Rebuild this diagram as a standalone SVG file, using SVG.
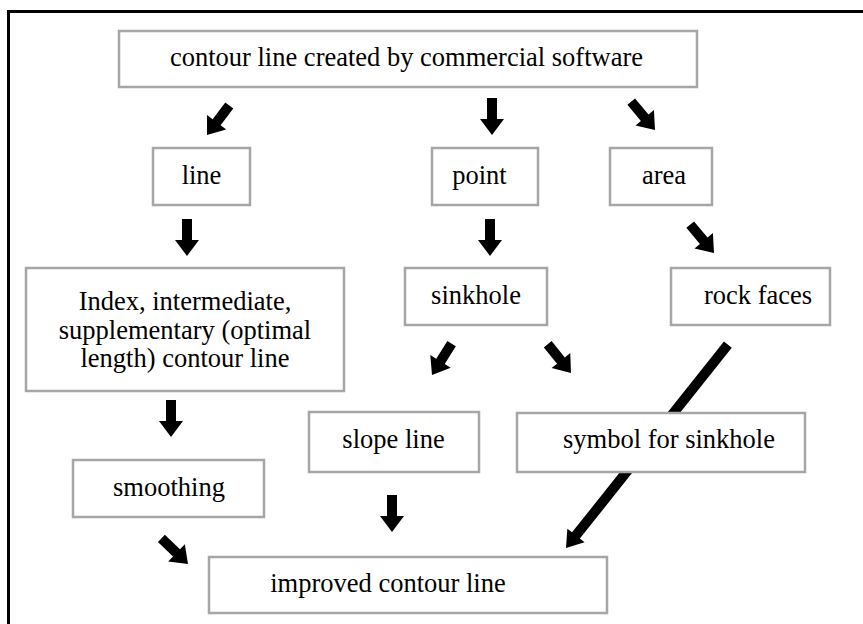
<svg xmlns="http://www.w3.org/2000/svg" xmlns:xlink="http://www.w3.org/1999/xlink" width="863" height="624" viewBox="0 0 863 624">
  <style>
    .frame { fill: none; stroke: #000; stroke-width: 3; }
    .box { fill: #fff; stroke: #a6a6a6; stroke-width: 2.5; }
    .lbl { font-family: "Liberation Serif", "Times New Roman", serif; font-size: 26.5px; fill: #000; text-anchor: middle; }
    .arrow { fill: #000; }
  </style>
  <defs>
    <!-- block arrow, tip at origin, pointing down -->
    <path id="blk" d="M-5,-37 H5 V-16 H12 L0,0 L-12,-16 H-5 Z"/>
  </defs>

  <rect class="frame" x="8.5" y="11.5" width="900" height="700"/>

  <g id="connectors" class="arrow">
    <use xlink:href="#blk" transform="translate(207,135) rotate(37)"/>
    <use xlink:href="#blk" transform="translate(492,135)"/>
    <use xlink:href="#blk" transform="translate(655,130) rotate(-40)"/>
    <use xlink:href="#blk" transform="translate(187,256)"/>
    <use xlink:href="#blk" transform="translate(490,256)"/>
    <use xlink:href="#blk" transform="translate(714,253) rotate(-40)"/>
    <use xlink:href="#blk" transform="translate(432,375) rotate(32)"/>
    <use xlink:href="#blk" transform="translate(571,373) rotate(-39)"/>
    <use xlink:href="#blk" transform="translate(171,437)"/>
    <use xlink:href="#blk" transform="translate(392,532)"/>
    <use xlink:href="#blk" transform="translate(188,564) rotate(-46)"/>
    <!-- long connector from rock faces to improved contour line -->
    <path transform="translate(566,548) rotate(38.5)" d="M-5,-260 H5 V-16 H11 L0,0 L-11,-16 H-5 Z"/>
  </g>

  <g id="n-source">
    <rect class="box" x="119" y="31" width="578" height="56"/>
    <text class="lbl" x="406.5" y="66">contour line created by commercial software</text>
  </g>
  <g id="n-line">
    <rect class="box" x="153" y="148" width="97" height="57"/>
    <text class="lbl" x="201.5" y="184">line</text>
  </g>
  <g id="n-point">
    <rect class="box" x="432" y="148" width="106" height="57"/>
    <text class="lbl" x="479.5" y="184">point</text>
  </g>
  <g id="n-area">
    <rect class="box" x="610" y="148" width="102" height="57"/>
    <text class="lbl" x="664" y="184">area</text>
  </g>
  <g id="n-index">
    <rect class="box" x="26" y="268" width="318" height="123"/>
    <text class="lbl" x="185" y="310">Index, intermediate,</text>
    <text class="lbl" x="185" y="338.5">supplementary (optimal</text>
    <text class="lbl" x="185" y="367">length) contour line</text>
  </g>
  <g id="n-sinkhole">
    <rect class="box" x="405" y="268" width="142" height="57"/>
    <text class="lbl" x="476" y="304">sinkhole</text>
  </g>
  <g id="n-rock">
    <rect class="box" x="671" y="268" width="159" height="57"/>
    <text class="lbl" x="758" y="304">rock faces</text>
  </g>
  <g id="n-slope">
    <rect class="box" x="309" y="412" width="170" height="60"/>
    <text class="lbl" x="393.5" y="448">slope line</text>
  </g>
  <g id="n-symbol">
    <rect class="box" x="517" y="413" width="288" height="59"/>
    <text class="lbl" x="669" y="448">symbol for sinkhole</text>
  </g>
  <g id="n-smoothing">
    <rect class="box" x="73" y="460" width="191" height="57"/>
    <text class="lbl" x="169" y="496">smoothing</text>
  </g>
  <g id="n-improved">
    <rect class="box" x="209" y="557" width="398" height="56"/>
    <text class="lbl" x="388" y="592">improved contour line</text>
  </g>
</svg>
